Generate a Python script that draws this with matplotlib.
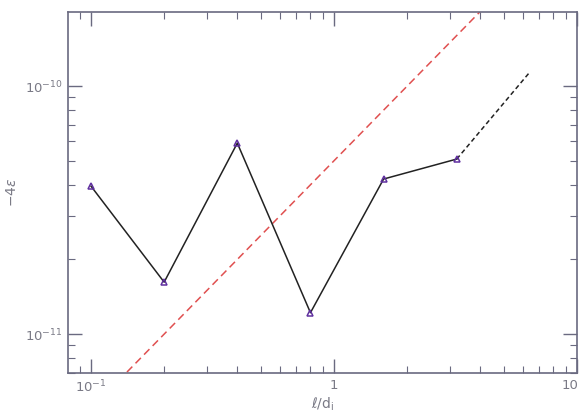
import matplotlib
matplotlib.use("Agg")
import matplotlib.pyplot as plt
import matplotlib.transforms as mtransforms
from matplotlib.ticker import LogLocator, NullFormatter

# data
scale = [0.1, 0.2, 0.4, 0.8, 1.6, 3.2]
eps = [3.95e-11, 1.62e-11, 5.89e-11, 1.22e-11, 4.22e-11, 5.08e-11]
ext_scale = [3.2, 6.4]
ext_eps = [5.08e-11, 1.14e-10]
ref_scale = [0.1406, 4.0]
ref_coef = 5.0e-11  # y = coef * l

axis_col = "#6a6a80"
text_col = "#7a7a86"

fig = plt.figure(figsize=(5.83, 4.12), dpi=100)
ax = fig.add_axes([0.1166, 0.0947, 0.8731, 0.8762])

ax.plot(ref_scale, [ref_coef * s for s in ref_scale], color="#e05050",
        linestyle=(0, (5, 3)), linewidth=1.1)
ax.plot(ext_scale, ext_eps, color="#222222", linestyle=(0, (3, 2)), linewidth=1.1)
ax.plot(scale, eps, color="#222222", linewidth=1.1, marker="^", markersize=5,
        markerfacecolor="none", markeredgecolor="#6030a0", markeredgewidth=1.1)

ax.set_xscale("log")
ax.set_yscale("log")
ax.set_xlim(0.0804, 10)
ax.set_ylim(6.97e-12, 1.99e-10)

ax.xaxis.set_minor_locator(LogLocator(base=10, subs=range(2, 10), numticks=10))
ax.yaxis.set_minor_locator(LogLocator(base=10, subs=range(2, 10), numticks=10))
ax.xaxis.set_minor_formatter(NullFormatter())
ax.yaxis.set_minor_formatter(NullFormatter())
ax.set_xticks([0.1, 1, 10])
ax.set_xticklabels([r"$10^{-1}$", "1", "10"])
ax.set_yticks([1e-11, 1e-10])
ax.set_yticklabels([r"$10^{-11}$", r"$10^{-10}$"])

for s in ax.spines.values():
    s.set_color(axis_col)
    s.set_linewidth(1.2)
ax.tick_params(which="both", direction="in", top=True, right=True,
               color=axis_col, labelcolor=text_col, labelsize=9.5)
ax.tick_params(which="major", length=10, width=1.0, pad=4)
ax.tick_params(which="minor", length=5, width=0.8)

# nudge the "10" label left so it stays inside the figure
last = ax.get_xticklabels()[-1]
last.set_transform(last.get_transform() +
                   mtransforms.ScaledTranslation(-5 / 72, 0, fig.dpi_scale_trans))

ax.set_xlabel(r"$\ell/\mathrm{d_i}$", color=text_col, fontsize=10, labelpad=0)
ax.set_ylabel(r"$-4\epsilon$", color=text_col, fontsize=10, labelpad=4)

fig.savefig("out.png", dpi=100)
